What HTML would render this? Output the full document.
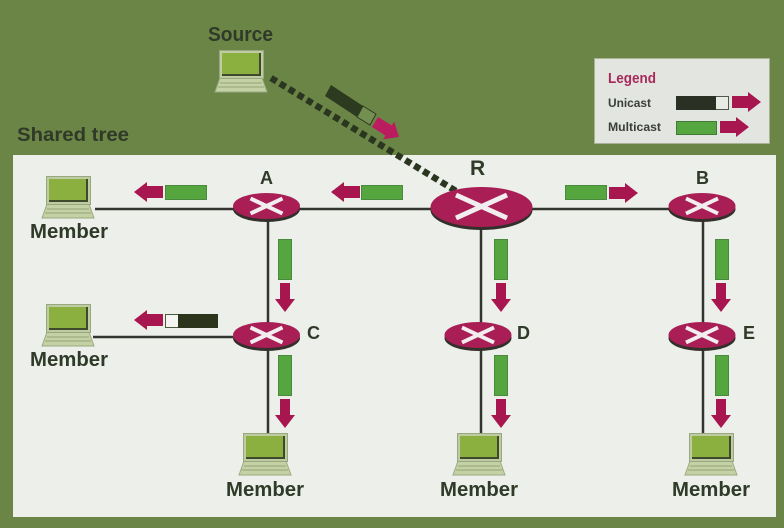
<!DOCTYPE html>
<html><head><meta charset="utf-8"><style>
html,body{margin:0;padding:0;background:#6a8446}
svg{display:block}
text{font-family:"Liberation Sans",sans-serif;font-weight:bold;fill:#2f3a28}
</style></head><body>
<svg width="784" height="528" viewBox="0 0 784 528" xmlns="http://www.w3.org/2000/svg">
<defs>
<g id="lap">
<path d="M0 42 L5 28 H47 L52 42 Z" fill="#c3d1a5" stroke="#9aab80" stroke-width="1"/>
<path d="M5 33H47M3 37H49" stroke="#93a578" stroke-width="1"/>
<rect x="4.500" y="0.500" width="44" height="28" fill="#bfcca3" stroke="#97a87e"/>
<rect x="7" y="3" width="39" height="23" fill="#3f4a2c"/>
<rect x="7" y="3" width="37" height="21" fill="#8cb040"/>
</g>
<g id="rt">
<ellipse cx="0" cy="3" rx="33.500" ry="13" fill="#33302c"/>
<ellipse cx="0" cy="0" rx="33.500" ry="13" fill="#a91e54"/>
<path d="M-16 -7.500 L16 7.500 M-16 7.500 L16 -7.500" stroke="#f2eef0" stroke-width="4"/>
</g>
<path id="al" d="M0 10 L13 0 V4 H29 V16 H13 V20 Z" fill="#a8164f"/>
<path id="ar" d="M29 10 L16 0 V4 H0 V16 H16 V20 Z" fill="#a8164f"/>
<path id="ad" d="M10 29 L0 16 H5 V0 H15 V16 H20 Z" fill="#a8164f"/>
<rect id="gh" width="41" height="14" fill="#55a63f" stroke="#4a8a3c"/>
<rect id="gv" width="13" height="40" fill="#55a63f" stroke="#4a8a3c"/>
</defs>
<rect width="784" height="528" fill="#6b8547"/>
<rect x="13" y="155" width="763" height="362" fill="#ecefea"/>

<g stroke="#33362e" stroke-width="2.500" fill="none">
<path d="M95 209H669M93 337H233"/>
<path d="M268 209V433M481 209V433M703 209V433"/>
</g>

<path d="M271 78 L456 191" stroke="#2a3620" stroke-width="6.500" stroke-dasharray="6.500 4" fill="none"/>

<use href="#lap" x="215" y="50"/>
<use href="#lap" x="42" y="176"/>
<use href="#lap" x="42" y="304"/>
<use href="#lap" x="239" y="433"/>
<use href="#lap" x="453" y="433"/>
<use href="#lap" x="685" y="433"/>

<use href="#rt" x="266.500" y="206"/>
<use href="#rt" x="266.500" y="335"/>
<use href="#rt" x="702" y="206"/>
<use href="#rt" x="478" y="335"/>
<use href="#rt" x="702" y="335"/>
<g>
<ellipse cx="481.500" cy="210" rx="51" ry="20" fill="#33302c"/>
<ellipse cx="481.500" cy="207" rx="51" ry="20" fill="#a91e54"/>
<path d="M456 195 L507 218 M456 218 L507 195" stroke="#f2eef0" stroke-width="5"/>
</g>

<use href="#al" x="134" y="182"/><use href="#gh" x="165.500" y="185.500"/>
<use href="#al" x="331" y="182"/><use href="#gh" x="361.500" y="185.500"/>
<use href="#gh" x="565.500" y="185.500"/><use href="#ar" x="609" y="183"/>

<use href="#gv" x="278.500" y="239.500"/><use href="#ad" x="275" y="283"/>
<use href="#gv" x="494.500" y="239.500"/><use href="#ad" x="491" y="283"/>
<use href="#gv" x="715.500" y="239.500"/><use href="#ad" x="711" y="283"/>
<use href="#gv" x="278.500" y="355.500"/><use href="#ad" x="275" y="399"/>
<use href="#gv" x="494.500" y="355.500"/><use href="#ad" x="491" y="399"/>
<use href="#gv" x="715.500" y="355.500"/><use href="#ad" x="711" y="399"/>

<use href="#al" x="134" y="310"/>
<rect x="165.500" y="314.500" width="13" height="13" fill="#f4f5f2" stroke="#4a5a3a"/>
<rect x="178" y="314" width="40" height="14" fill="#2c351c"/>

<polygon points="331,85 363,106 357,117 325,96" fill="#2c3a1f"/>
<polygon points="363,106 376,114 370,125 357,117" fill="#748f52" stroke="#2c3a1f"/>
<polygon points="378,117 391.800,125.400 394.200,121.600 399,137 383,139.400 385.400,135.600 372,127" fill="#bb1c60"/>

<rect x="594.500" y="58.500" width="175" height="85" fill="#e2e5e0" stroke="#a7b296"/>
<text x="608" y="83" font-size="15" style="fill:#a82a5c" textLength="48" lengthAdjust="spacingAndGlyphs">Legend</text>
<text x="608" y="107" font-size="12" style="fill:#3a3f3a;font-weight:bold" textLength="43" lengthAdjust="spacingAndGlyphs">Unicast</text>
<text x="608" y="131" font-size="12" style="fill:#3a3f3a;font-weight:bold" textLength="53" lengthAdjust="spacingAndGlyphs">Multicast</text>
<rect x="676.500" y="96.500" width="52" height="13" fill="#e8eae4" stroke="#50584a"/>
<rect x="676" y="96" width="40" height="14" fill="#2a3024"/>
<use href="#ar" x="732" y="92"/>
<rect x="676.500" y="121.500" width="40" height="13" fill="#55a63f" stroke="#3f7a36"/>
<use href="#ar" x="720" y="117"/>

<text x="208" y="41" font-size="20" textLength="65" lengthAdjust="spacingAndGlyphs">Source</text>
<text x="17" y="141" font-size="19" textLength="112" lengthAdjust="spacingAndGlyphs">Shared tree</text>
<text x="260" y="184" font-size="18">A</text>
<text x="470" y="175" font-size="21">R</text>
<text x="696" y="184" font-size="18">B</text>
<text x="307" y="339" font-size="18">C</text>
<text x="517" y="339" font-size="18">D</text>
<text x="743" y="339" font-size="18">E</text>
<text x="30" y="238" font-size="20" textLength="78" lengthAdjust="spacingAndGlyphs">Member</text>
<text x="30" y="366" font-size="20" textLength="78" lengthAdjust="spacingAndGlyphs">Member</text>
<text x="226" y="496" font-size="20" textLength="78" lengthAdjust="spacingAndGlyphs">Member</text>
<text x="440" y="496" font-size="20" textLength="78" lengthAdjust="spacingAndGlyphs">Member</text>
<text x="672" y="496" font-size="20" textLength="78" lengthAdjust="spacingAndGlyphs">Member</text>
</svg>
</body></html>
